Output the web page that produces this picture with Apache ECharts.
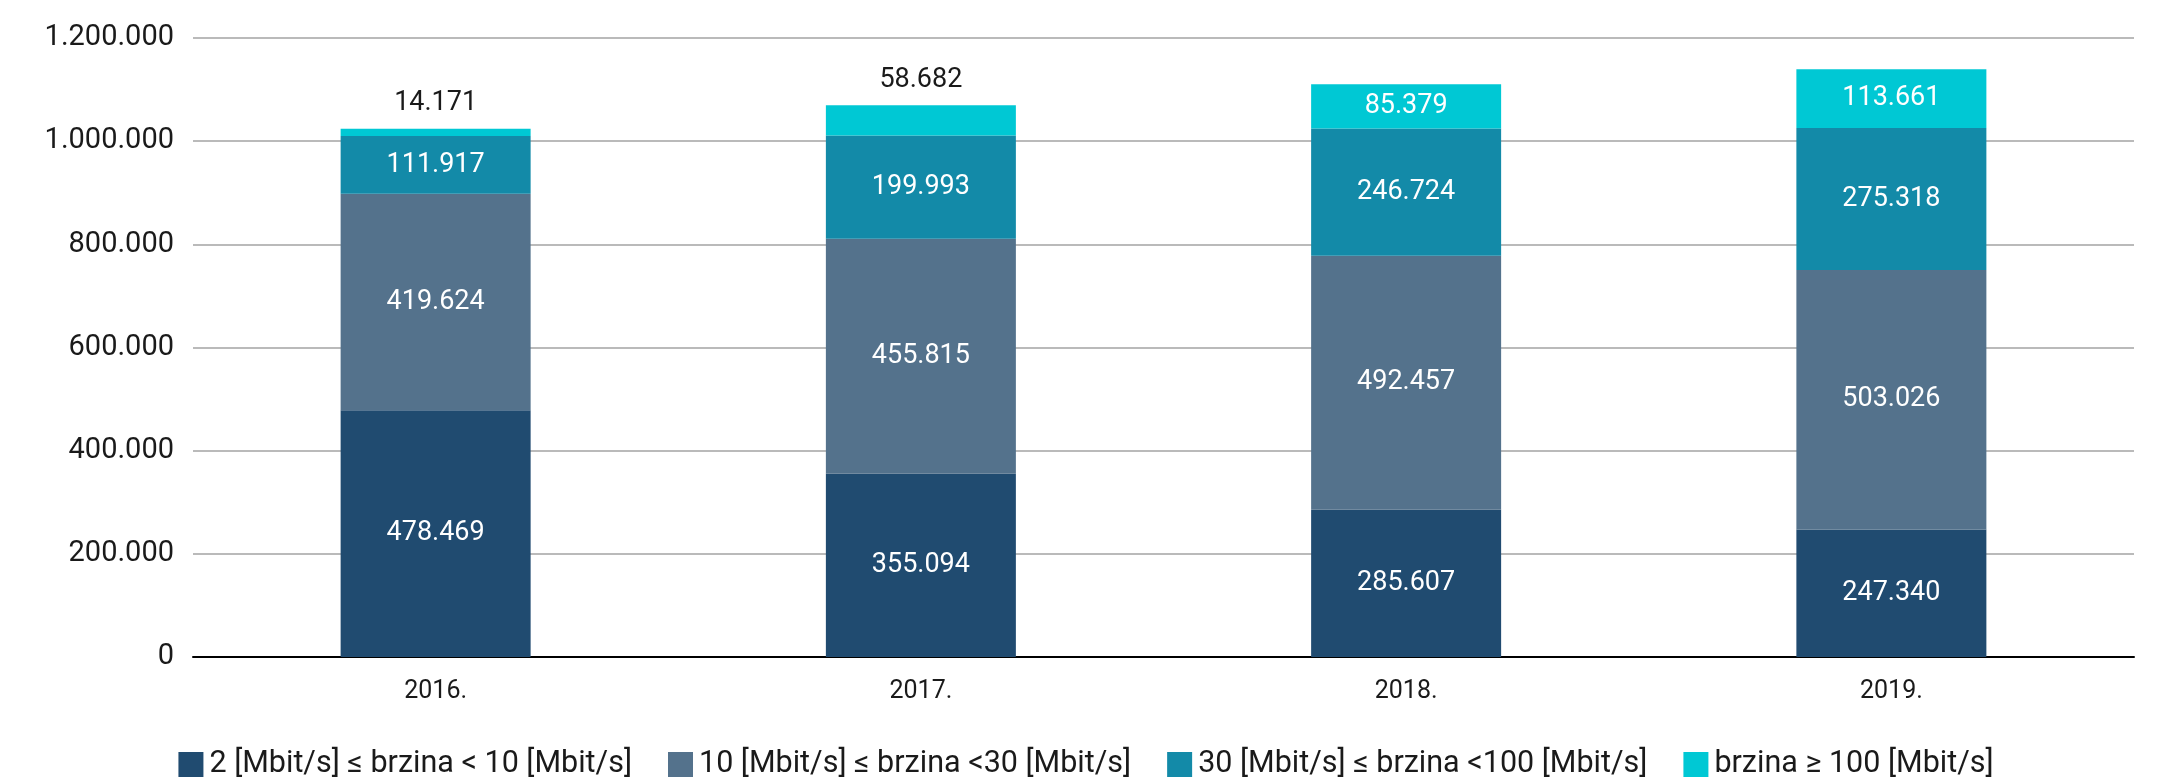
<!DOCTYPE html>
<html>
<head>
<meta charset="utf-8">
<script src="https://cdn.jsdelivr.net/npm/echarts@6/dist/echarts.min.js"></script>
<style>
html,body{margin:0;padding:0;background:#fff;}
#c{width:2172px;height:778px;}
</style>
</head>
<body>
<div id="c"></div>
<script>
const categories = ['2016.', '2017.', '2018.', '2019.'];
const seriesNames = [
  '2 [Mbit/s] \u2264 brzina < 10 [Mbit/s]',
  '10 [Mbit/s] \u2264 brzina <30 [Mbit/s]',
  '30 [Mbit/s] \u2264 brzina <100 [Mbit/s]',
  'brzina \u2265 100 [Mbit/s]'
];
const s2to10 = [478469, 355094, 285607, 247340];
const s10to30 = [419624, 455815, 492457, 503026];
const s30to100 = [111917, 199993, 246724, 275318];
const s100plus = [14171, 58682, 85379, 113661];
const yTicks = [0, 200000, 400000, 600000, 800000, 1000000, 1200000];

const colors = ['#204B70', '#54728C', '#138AA8', '#00C8D4'];
const FONT = 'Roboto';

function fmt(v) {
  return String(Math.round(v)).replace(/\B(?=(\d{3})+(?!\d))/g, '.');
}

const allSeries = [s2to10, s10to30, s30to100, s100plus];
const series = allSeries.map((arr, si) => ({
  name: seriesNames[si],
  type: 'bar',
  stack: 'total',
  barWidth: 190,
  itemStyle: { color: colors[si] },
  label: {
    show: true,
    position: 'inside',
    color: '#ffffff',
    fontFamily: FONT,
    fontSize: 27,
    formatter: p => fmt(p.value)
  },
  data: arr.map((v, i) => {
    if (si === 3 && i < 2) {
      return { value: v, label: { position: 'top', distance: 12, color: '#1a1a1a' } };
    }
    return v;
  })
}));

const chart = echarts.init(document.getElementById('c'), null, { renderer: 'canvas' });
chart.setOption({
  animation: false,
  backgroundColor: '#ffffff',
  grid: { left: 193, right: 38, top: 38, bottom: 121, containLabel: false },
  legend: {
    show: true,
    left: 'center',
    top: 744,
    icon: 'rect',
    itemWidth: 25,
    itemHeight: 25,
    itemGap: 36,
    textStyle: { fontFamily: FONT, fontSize: 30.5, color: '#1a1a1a', padding: [0, 0, 0, 1] },
    data: seriesNames
  },
  xAxis: {
    type: 'category',
    data: categories,
    axisLine: { show: true, lineStyle: { color: '#000000', width: 2 } },
    axisTick: { show: false },
    axisLabel: { color: '#1a1a1a', fontFamily: FONT, fontSize: 25, margin: 22 }
  },
  yAxis: {
    type: 'value',
    min: 0,
    max: 1200000,
    interval: 200000,
    axisLine: { show: false },
    axisTick: { show: false },
    splitLine: { show: true, lineStyle: { color: '#a3a3a3', width: 1.5 } },
    axisLabel: {
      color: '#1a1a1a',
      fontFamily: FONT,
      fontSize: 29,
      margin: 19,
      formatter: v => (yTicks.indexOf(v) >= 0 ? fmt(v) : '')
    }
  },
  series: series
});
</script>
</body>
</html>
